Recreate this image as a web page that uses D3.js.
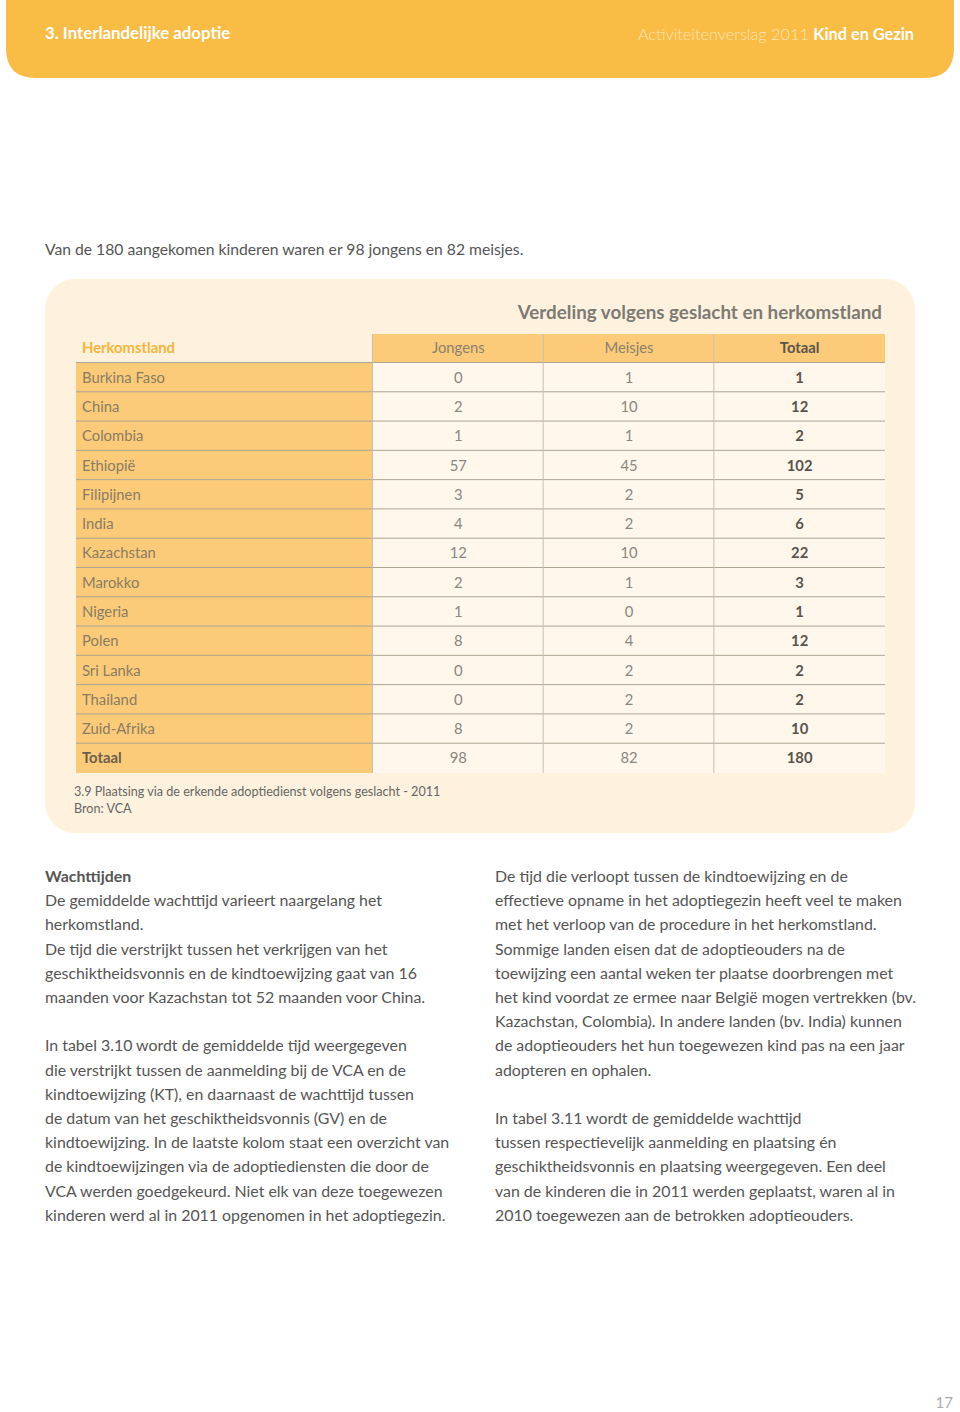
<!DOCTYPE html>
<html><head><meta charset="utf-8">
<script src="https://cdn.jsdelivr.net/npm/d3@7"></script>
<style>
html,body{margin:0;padding:0;background:#fff;}
svg{display:block;font-family:Lato,"Open Sans",sans-serif;}
</style></head>
<body>
<svg id="page" width="960" height="1412"></svg>
<script>
const countries = ["Burkina Faso","China","Colombia","Ethiopië","Filipijnen","India","Kazachstan","Marokko","Nigeria","Polen","Sri Lanka","Thailand","Zuid-Afrika","Totaal"];
const jongens = [0,2,1,57,3,4,12,2,1,8,0,0,8,98];
const meisjes = [1,10,1,45,2,2,10,1,0,4,2,2,2,82];
const totaal  = [1,12,2,102,5,6,22,3,1,12,2,2,10,180];
const columns = ["Jongens","Meisjes","Totaal"];
const series = [jongens, meisjes, totaal];

const leftText = [
  {t:"Wachttijden", b:true},
  {t:"De gemiddelde wachttijd varieert naargelang het"},
  {t:"herkomstland."},
  {t:"De tijd die verstrijkt tussen het verkrijgen van het"},
  {t:"geschiktheidsvonnis en de kindtoewijzing gaat van 16"},
  {t:"maanden voor Kazachstan tot 52 maanden voor China."},
  {t:""},
  {t:"In tabel 3.10 wordt de gemiddelde tijd weergegeven"},
  {t:"die verstrijkt tussen de aanmelding bij de VCA en de"},
  {t:"kindtoewijzing (KT), en daarnaast de wachttijd tussen"},
  {t:"de datum van het geschiktheidsvonnis (GV) en de"},
  {t:"kindtoewijzing. In de laatste kolom staat een overzicht van"},
  {t:"de kindtoewijzingen via de adoptiediensten die door de"},
  {t:"VCA werden goedgekeurd. Niet elk van deze toegewezen"},
  {t:"kinderen werd al in 2011 opgenomen in het adoptiegezin."}
];
const rightText = [
  "De tijd die verloopt tussen de kindtoewijzing en de",
  "effectieve opname in het adoptiegezin heeft veel te maken",
  "met het verloop van de procedure in het herkomstland.",
  "Sommige landen eisen dat de adoptieouders na de",
  "toewijzing een aantal weken ter plaatse doorbrengen met",
  "het kind voordat ze ermee naar België mogen vertrekken (bv.",
  "Kazachstan, Colombia). In andere landen (bv. India) kunnen",
  "de adoptieouders het hun toegewezen kind pas na een jaar",
  "adopteren en ophalen.",
  "",
  "In tabel 3.11 wordt de gemiddelde wachttijd",
  "tussen respectievelijk aanmelding en plaatsing én",
  "geschiktheidsvonnis en plaatsing weergegeven. Een deel",
  "van de kinderen die in 2011 werden geplaatst, waren al in",
  "2010 toegewezen aan de betrokken adoptieouders."
];

const svg = d3.select("#page");

// header band with rounded bottom corners
const hx0=6,hx1=954,hy1=78,r=30;
svg.append("path")
  .attr("d",`M${hx0},0 H${hx1} V${hy1-r} Q${hx1},${hy1} ${hx1-r},${hy1} H${hx0+r} Q${hx0},${hy1} ${hx0},${hy1-r} Z`)
  .attr("fill","#F9BC45");
svg.append("text").attr("x",45).attr("y",39).attr("fill","#fff")
  .attr("font-size",16.8).attr("font-weight",700).text("3. Interlandelijke adoptie");
const ht = svg.append("text").attr("x",914).attr("y",40).attr("text-anchor","end")
  .attr("font-size",16.3).attr("fill","#fff");
ht.append("tspan").attr("font-weight",300).attr("fill","#fde6b8").text("Activiteitenverslag 2011 ");
ht.append("tspan").attr("font-weight",700).text("Kind en Gezin");

// intro line
svg.append("text").attr("x",45).attr("y",255).attr("fill","#555")
  .attr("font-size",15.7).text("Van de 180 aangekomen kinderen waren er 98 jongens en 82 meisjes.");

// panel
svg.append("rect").attr("x",45).attr("y",279).attr("width",870).attr("height",554)
  .attr("rx",30).attr("fill","#FEF2DF");

svg.append("text").attr("x",882).attr("y",319).attr("text-anchor","end")
  .attr("font-size",18.8).attr("font-weight",700).attr("fill","#7d7a74")
  .text("Verdeling volgens geslacht en herkomstland");

// table scales
const y = d3.scaleBand().domain(d3.range(countries.length)).range([363,773]).paddingInner(0);
const x = d3.scaleBand().domain(columns).range([373,885]);
const labelX0 = 76, labelX1 = 372;
const headerY0 = 334, headerY1 = 362;

// header row
svg.append("rect").attr("x",x.range()[0]).attr("y",headerY0).attr("width",x.range()[1]-x.range()[0])
  .attr("height",headerY1-headerY0).attr("fill","#FBCB79");
svg.append("text").attr("x",82).attr("y",353).attr("font-size",14.8).attr("font-weight",700)
  .attr("fill","#F5B53A").text("Herkomstland");
svg.selectAll("text.colhead").data(columns).join("text").attr("class","colhead")
  .attr("x",d=>x(d)+x.bandwidth()/2).attr("y",353).attr("text-anchor","middle")
  .attr("font-size",14.8).attr("font-weight",d=>d==="Totaal"?700:400)
  .attr("fill",d=>d==="Totaal"?"#5a554c":"#8c8070").text(d=>d);

// label column
svg.append("rect").attr("x",labelX0).attr("y",y.range()[0]).attr("width",labelX1-labelX0)
  .attr("height",y.range()[1]-y.range()[0]).attr("fill","#FBCB79");
// data cells background
svg.append("rect").attr("x",x.range()[0]).attr("y",y.range()[0]).attr("width",x.range()[1]-x.range()[0])
  .attr("height",y.range()[1]-y.range()[0]).attr("fill","#FFF7EC");

// row lines
svg.selectAll("line.row").data(d3.range(countries.length)).join("line").attr("class","row")
  .attr("x1",labelX0).attr("x2",885).attr("y1",d=>y(d)-0.5).attr("y2",d=>y(d)-0.5)
  .attr("stroke","#aea493").attr("stroke-width",1);
// column lines
svg.selectAll("line.col").data(columns).join("line").attr("class","col")
  .attr("x1",d=>x(d)-0.5).attr("x2",d=>x(d)-0.5).attr("y1",headerY0).attr("y2",y.range()[1])
  .attr("stroke","#c9bfae").attr("stroke-width",1);

// labels
svg.selectAll("text.country").data(countries).join("text").attr("class","country")
  .attr("x",82).attr("y",(d,i)=>y(i)+y.bandwidth()/2+5)
  .attr("font-size",14.8).attr("font-weight",d=>d==="Totaal"?700:400)
  .attr("fill",d=>d==="Totaal"?"#6b5f4b":"#8a7c63").text(d=>d);

// values
columns.forEach((c,ci)=>{
  svg.selectAll("text.v"+ci).data(series[ci]).join("text").attr("class","v"+ci)
    .attr("x",x(c)+x.bandwidth()/2).attr("y",(d,i)=>y(i)+y.bandwidth()/2+5)
    .attr("text-anchor","middle").attr("font-size",14.8)
    .attr("font-weight",c==="Totaal"?700:400)
    .attr("fill",c==="Totaal"?"#58544d":"#8a8680").text(d=>d);
});

// caption
svg.append("text").attr("x",74).attr("y",796).attr("font-size",12.6).attr("fill","#666")
  .text("3.9 Plaatsing via de erkende adoptiedienst volgens geslacht - 2011");
svg.append("text").attr("x",74).attr("y",813).attr("font-size",12.6).attr("fill","#666")
  .text("Bron: VCA");

// body text
const lh = 24.2;
svg.selectAll("text.lt").data(leftText).join("text").attr("class","lt")
  .attr("x",45).attr("y",(d,i)=>882+i*lh).attr("font-size",15.9)
  .attr("font-weight",d=>d.b?700:400).attr("fill","#555").text(d=>d.t);
svg.selectAll("text.rt").data(rightText).join("text").attr("class","rt")
  .attr("x",495).attr("y",(d,i)=>882+i*lh).attr("font-size",15.9)
  .attr("fill","#555").text(d=>d);

svg.append("text").attr("x",953).attr("y",1408).attr("text-anchor","end").attr("font-size",15)
  .attr("fill","#aaa").text("17");
</script>
</body></html>
